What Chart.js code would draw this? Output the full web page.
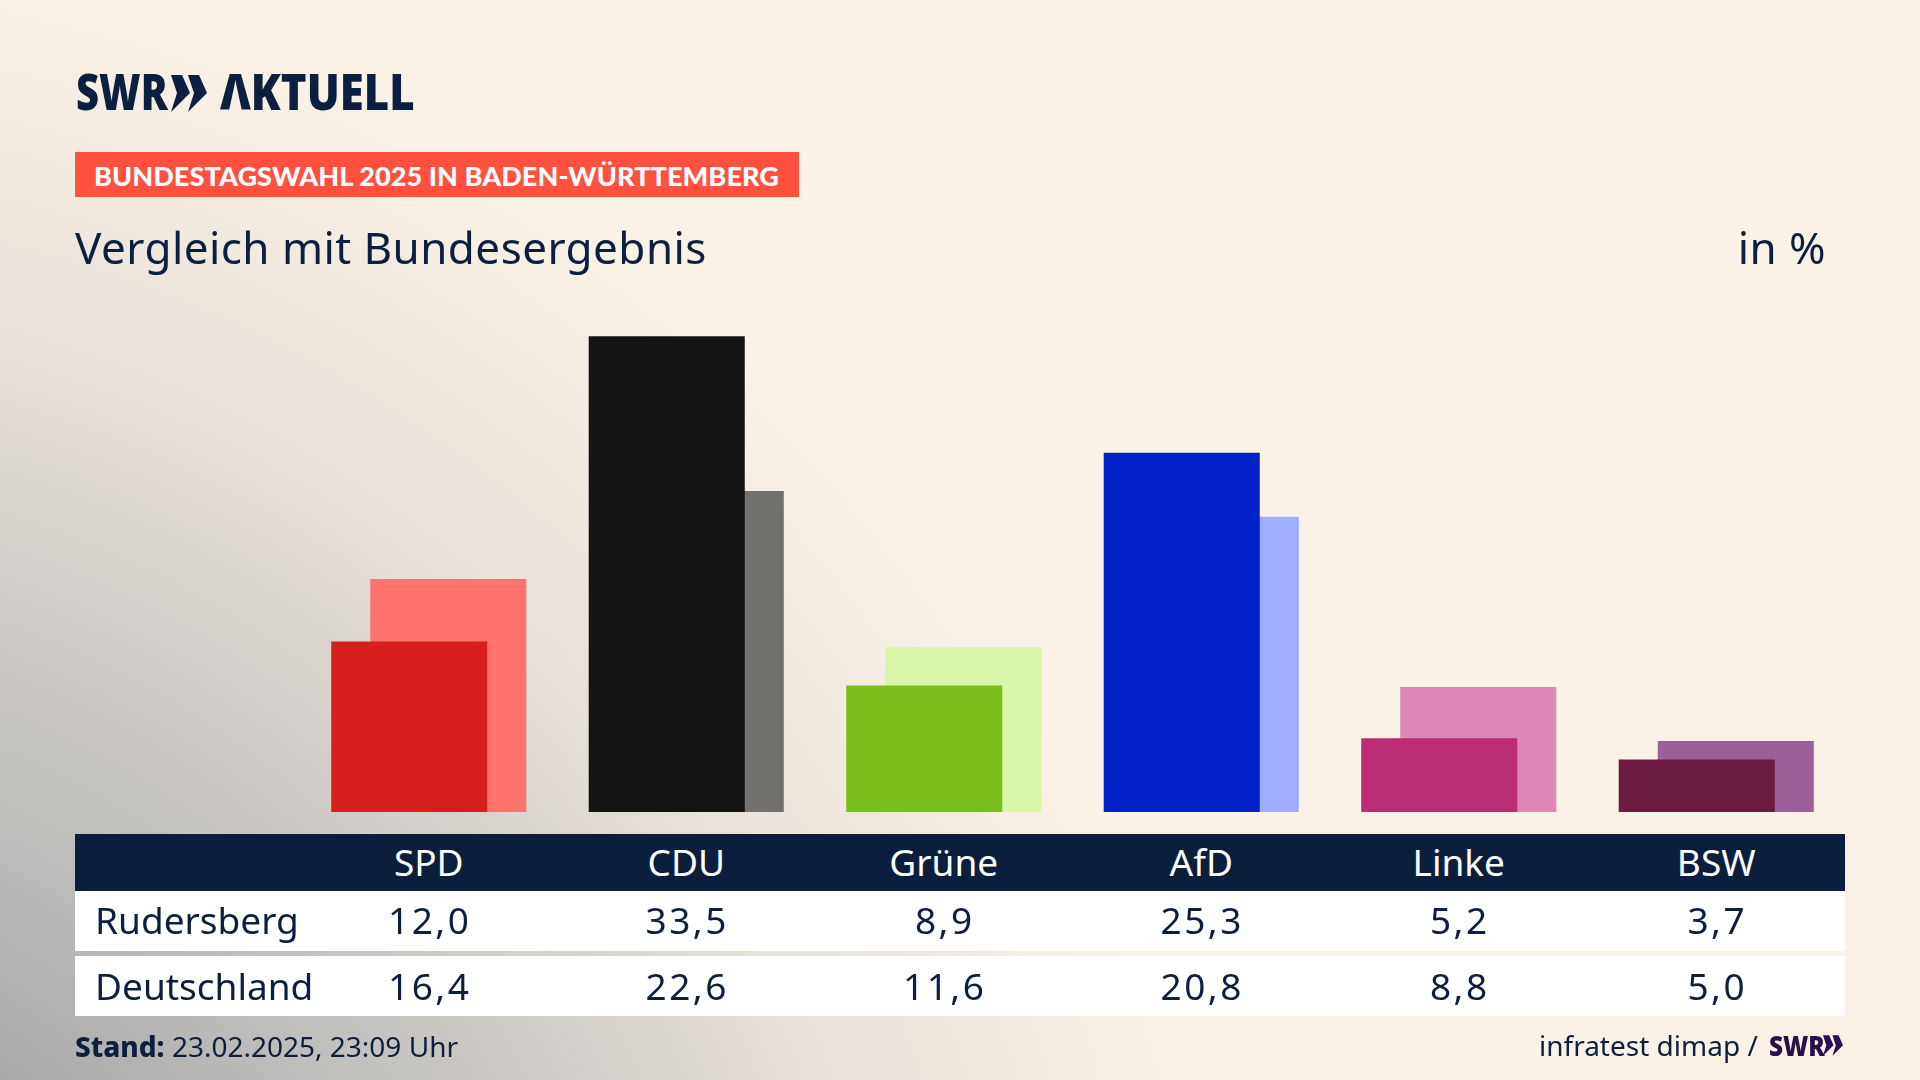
<!DOCTYPE html>
<html lang="de">
<head>
<meta charset="utf-8">
<title>Vergleich mit Bundesergebnis</title>
<script src="https://cdn.jsdelivr.net/npm/chart.js@4"></script>
<style>
  html, body { margin: 0; padding: 0; width: 1920px; height: 1080px; overflow: hidden; }
  body {
    position: relative;
    font-family: "Noto Sans", Lato, sans-serif;
    color: #0c1f3f;
    background:
      radial-gradient(circle 1560px at -300px 1500px, #a9a9a9 516px, #bdbcba 725px, #dcd7d0 1090px, #e7e1d9 1200px, #f0e8df 1330px, #fbf2e7 1560px),
      #fbf2e7;
  }
  canvas { position: absolute; left: 0; top: 0; }
  .abs { position: absolute; white-space: nowrap; line-height: 1; }
  .band { position: absolute; left: 75px; width: 1770px; display: grid; grid-template-columns: 225px repeat(6, 1fr); align-items: center; font-size: 37px; line-height: 1; box-sizing: border-box; }
  .band div { text-align: center; }
  .band div:first-child { text-align: left; padding-left: 20px; }
  .nums div:not(:first-child) { letter-spacing: 2.5px; padding-left: 2px; }
  .logo { font-weight: 900; transform-origin: 0 0; }
</style>
</head>
<body>
<canvas id="chart" width="1920" height="1080"></canvas>

<div class="abs logo" style="left:76px;top:66px;font-size:50px;transform:scaleX(.8)">SWR</div>
<svg class="abs" style="left:171px;top:75px" width="36" height="37" viewBox="0 0 36 37">
  <polygon points="0,0 11,0 19,18 0,37 6,18" fill="#0c1f3f"/>
  <polygon points="17,0 28,0 36,18 17,37 23,18" fill="#0c1f3f"/>
</svg>
<div class="abs logo" style="left:220px;top:66px;font-size:50px;transform:scaleX(.874)">ΛKTUELL</div>

<div class="abs" style="left:75px;top:152px;width:724px;height:45px;background:#ff5040"></div>
<div class="abs" style="left:94px;top:162px;font-family:Lato;font-size:27px;font-weight:900;letter-spacing:.1px;color:#fff">BUNDESTAGSWAHL 2025 IN BADEN-WÜRTTEMBERG</div>

<div class="abs" style="left:75px;top:225px;font-size:44px;letter-spacing:.45px">Vergleich mit Bundesergebnis</div>
<div class="abs" style="right:94px;top:225px;font-size:44px;letter-spacing:.45px">in %</div>

<div class="band" id="head" style="top:834px;height:57px;padding-bottom:2px;background:#0b1f3d;color:#fff"></div>
<div class="band nums" id="row1" style="top:891px;height:60px;padding-bottom:3px;background:#fff"></div>
<div class="band nums" id="row2" style="top:956px;height:60px;padding-bottom:2px;background:#fff"></div>

<div class="abs" style="left:75px;top:1032px;font-size:28px"><b style="font-weight:800">Stand:</b> 23.02.2025, 23:09 Uhr</div>
<div class="abs" style="left:1539px;top:1031px;font-size:28px">infratest dimap /</div>
<div class="abs logo" style="left:1769px;top:1031px;font-size:28px;color:#2a0f4a;transform:scaleX(.87)">SWR</div>
<svg class="abs" style="left:1823px;top:1035px" width="20" height="21" viewBox="0 0 36 37">
  <polygon points="0,0 11,0 19,18 0,37 6,18" fill="#2a0f4a"/>
  <polygon points="17,0 28,0 36,18 17,37 23,18" fill="#2a0f4a"/>
</svg>

<script>
const parties = ['SPD', 'CDU', 'Grüne', 'AfD', 'Linke', 'BSW'];
const rudersberg = [12.0, 33.5, 8.9, 25.3, 5.2, 3.7];
const deutschland = [16.4, 22.6, 11.6, 20.8, 8.8, 5.0];
const darkColors = ['#d7201d', '#131313', '#7abd1c', '#0020c8', '#bb2e75', '#6b1a40'];
const lightColors = ['#ff736c', '#72716e', '#d8f5a8', '#9fadff', '#df87b6', '#9b6098'];

function fmt(v) {
    return v.toFixed(1).replace('.', ',');
}

function fillBand(id, label, cells) {
    const band = document.getElementById(id);
    [label, ...cells].forEach(text => {
        const cell = document.createElement('div');
        cell.textContent = text;
        band.appendChild(cell);
    });
}

fillBand('head', '', parties);
fillBand('row1', 'Rudersberg', rudersberg.map(fmt));
fillBand('row2', 'Deutschland', deutschland.map(fmt));

// barPercentage above 1 makes the two bars of a group overlap
const barOptions = { categoryPercentage: 0.303, barPercentage: 4 };

new Chart(document.getElementById('chart'), {
    type: 'bar',
    data: {
        labels: parties,
        datasets: [
            { label: 'Rudersberg', data: rudersberg, backgroundColor: darkColors, ...barOptions },
            { label: 'Deutschland', data: deutschland, backgroundColor: lightColors, ...barOptions }
        ]
    },
    options: {
        responsive: false,
        animation: false,
        layout: { padding: { left: 300, right: 75, top: 315, bottom: 268 } },
        scales: {
            x: { display: false },
            y: { display: false, min: 0, max: 35 }
        },
        plugins: { legend: { display: false }, tooltip: { enabled: false } }
    }
});
</script>
</body>
</html>
